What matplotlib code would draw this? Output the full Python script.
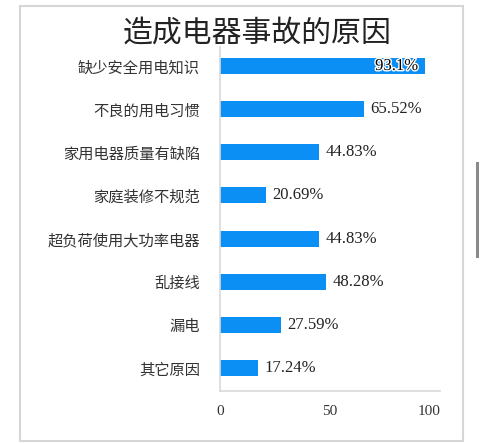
import matplotlib.pyplot as plt
from matplotlib.patches import Rectangle
import matplotlib.patheffects as pe
from matplotlib.transforms import ScaledTranslation

# data
categories = ["缺少安全用电知识", "不良的用电习惯", "家用电器质量有缺陷", "家庭装修不规范",
              "超负荷使用大功率电器", "乱接线", "漏电", "其它原因"]
values = [93.1, 65.52, 44.83, 20.69, 44.83, 48.28, 27.59, 17.24]
value_labels = ["93.1%", "65.52%", "44.83%", "20.69%", "44.83%", "48.28%", "27.59%", "17.24%"]
x_ticks = [0, 50, 100]

W, H = 484, 443
fig = plt.figure(figsize=(W / 100, H / 100), dpi=100)
fig.patch.set_facecolor("white")

# outer frame and grey scroll bar
fig.add_artist(Rectangle((20 / W, 1 - 441 / H), 443 / W, 435 / H, transform=fig.transFigure,
                         fill=False, edgecolor="#d6d6d6", linewidth=1.5))
fig.add_artist(Rectangle((476 / W, 1 - 258 / H), 3 / W, 96 / H, transform=fig.transFigure,
                         facecolor="#8a8a8a", edgecolor="none"))

ax = fig.add_axes([220 / W, 1 - 391 / H, 220 / W, 344 / H])
y = list(range(len(categories)))
ax.barh(y, values, height=0.37, color="#0b8ff5")
ax.set_ylim(7.53, -0.44)
ax.set_xlim(0, 100)

ax.set_yticks(y)
ax.set_yticklabels(categories, family=["Noto Sans CJK SC", "DejaVu Sans"], fontsize=11, color="#333333")
ax.set_xticks(x_ticks)
ax.set_xticklabels([str(t) for t in x_ticks], family="Liberation Serif", fontsize=11, color="#333333")
ax.tick_params(axis="y", length=0, pad=14.4)
ax.tick_params(axis="x", length=0, pad=10)

# last tick label sits flush with the end of the axis
last = ax.get_xticklabels()[-1]
last.set_horizontalalignment("right")
last.set_transform(last.get_transform() + ScaledTranslation(1 / 100, 0, fig.dpi_scale_trans))

for s in ["top", "right"]:
    ax.spines[s].set_visible(False)
for s in ["left", "bottom"]:
    ax.spines[s].set_color("#d9d9d9")
    ax.spines[s].set_linewidth(1.2)

for i, (v, lab) in enumerate(zip(values, value_labels)):
    if v > 90:
        ax.text(v - 3, i, lab, ha="right", va="center", fontsize=12, family="Liberation Serif",
                color="black", path_effects=[pe.withStroke(linewidth=2, foreground="white")])
    else:
        ax.text(v + 3, i, lab, ha="left", va="center", fontsize=12, family="Liberation Serif",
                color="#222222")

fig.text(257 / W, 1 - 33 / H, "造成电器事故的原因", ha="center", va="center", fontsize=21.5,
         family=["Noto Sans CJK SC", "DejaVu Sans"], color="#222222")

fig.savefig("out.png", dpi=100)
